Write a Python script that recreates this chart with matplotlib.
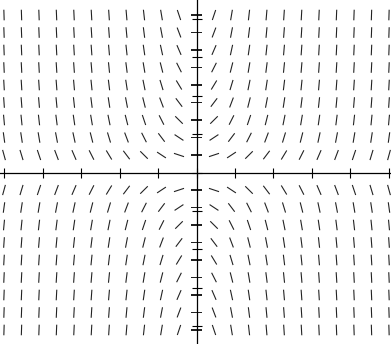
import numpy as np
import matplotlib

matplotlib.use("Agg")
import matplotlib.pyplot as plt

# direction field for y' = k * x * y, sampled on a regular grid
x_grid = np.linspace(-5, 5, 23)
y_grid = x_grid[2:-2]
slope_coeff = 1.6
x_ticks = list(range(-5, 6))
y_ticks = list(range(-4, 5))

seg_len = 0.275  # data units (about 10.5 px)

fig = plt.figure(figsize=(3.91, 3.44), dpi=100)
ax = fig.add_axes([0, 0, 1, 1])
ax.set_xlim(-5.104, 5.052)
ax.set_ylim(-4.455, 4.481)

X, Y = np.meshgrid(x_grid, y_grid)
theta = np.arctan(slope_coeff * X * Y)
U = seg_len * np.cos(theta)
V = seg_len * np.sin(theta)
# the y = 0 row lies flat on the x axis and is hidden by it
keep = np.abs(Y) > 1e-9
ax.quiver(X[keep], Y[keep], U[keep], V[keep], angles="xy", scale_units="xy",
          scale=1, pivot="mid", headwidth=1, headlength=0, headaxislength=0,
          units="dots", width=1.1, color="#222222")

for side in ("top", "right"):
    ax.spines[side].set_visible(False)
for side in ("left", "bottom"):
    ax.spines[side].set_position(("data", 0))
    ax.spines[side].set_linewidth(0.9)
ax.set_xticks(x_ticks)
ax.set_yticks(y_ticks)
ax.set_xticklabels([])
ax.set_yticklabels([])
ax.tick_params(direction="inout", length=6.5, width=0.8)

fig.savefig("out.png", dpi=100)
